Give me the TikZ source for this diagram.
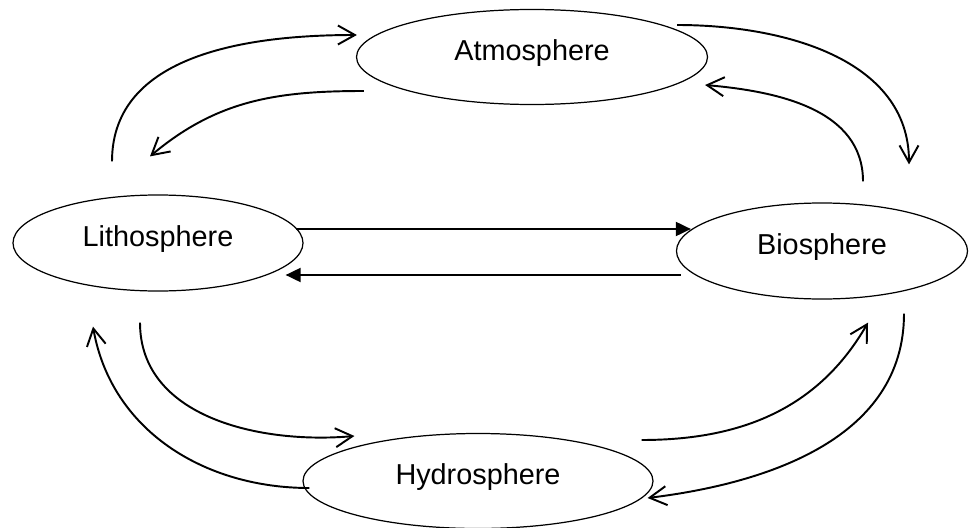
\documentclass[tikz,border=0pt]{standalone}
\usepackage{fontspec}
\setmainfont{Liberation Sans}
\usetikzlibrary{shapes.geometric,arrows.meta,calc}
\begin{document}
\begin{tikzpicture}
        [x=0.2mm, y=0.2mm,
        sphere/.style={ellipse, draw=black, line width=0.7pt, inner sep=0pt,
          text height=12pt, text depth=8pt, font=\fontsize{16.4}{19}\selectfont},
        flow/.style={line width=1.1pt, -{Straight Barb[length=3.4mm,width=3.8mm]}},
        link/.style={line width=1.1pt, -{Triangle[length=3mm,width=2.8mm]}},
        ]
        \useasboundingbox (0,0) rectangle (970,527);
        \node[sphere, minimum width=70.2mm, minimum height=19mm] (atmo) at (532,470) {Atmosphere};
        \node[sphere, minimum width=58mm, minimum height=19.2mm] (litho) at (158,284) {Lithosphere};
        \node[sphere, minimum width=58.2mm, minimum height=19.2mm] (bio) at (822,276) {Biosphere};
        \node[sphere, minimum width=70mm, minimum height=19mm] (hydro) at (478,46) {Hydrosphere};
        % top
        \draw[flow] ($(litho.north)+(-46,33)$) to[out=90,in=180] ($(atmo.west)+(1,22)$);
        \draw[flow] ($(atmo.west)+(8,-34)$) to[out=180,in=40] ($(litho.north)+(-8,38)$);
        \draw[flow] ($(atmo.east)+(-31,32)$) to[out=0,in=90] ($(bio.north)+(87,38)$);
        \draw[flow] ($(bio.north)+(41,21)$) to[out=90,in=-5] ($(atmo.east)+(-3,-28)$);
        % middle
        \draw[link] ($(litho.east)+(-8,14)$) -- ($(bio.west)+(15,22)$);
        \draw[link] ($(bio.west)+(5,-24)$) -- ($(litho.east)+(-18,-32)$);
        % bottom
        \draw[flow] ($(litho.south)+(-18,-31)$) to[out=-90,in=185] ($(hydro.west)+(52,45)$);
        \draw[flow] ($(hydro.west)+(7,-7)$) to[out=180,in=-80] ($(litho.south)+(-65,-35)$);
        \draw[flow] ($(hydro.east)+(-12,41)$) to[out=0,in=-120] ($(bio.south)+(46,-23)$);
        \draw[flow] ($(bio.south)+(82,-14)$) to[out=-90,in=7] ($(hydro.east)+(-6,-17)$);
\end{tikzpicture}
\end{document}
